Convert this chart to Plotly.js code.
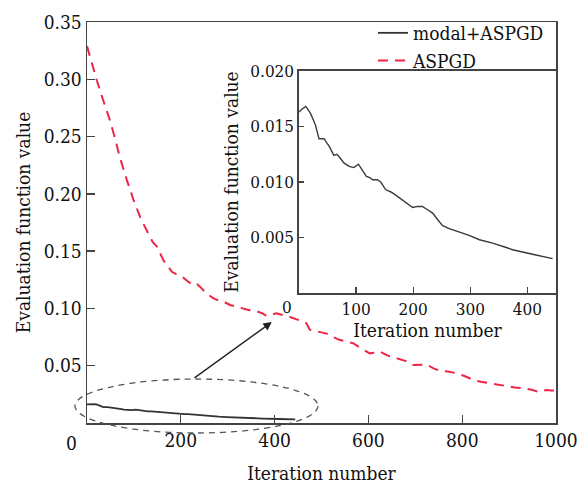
<!DOCTYPE html>
<html>
<head>
<meta charset="utf-8">
<script src="https://cdn.plot.ly/plotly-3.0.1.min.js"></script>
<style>html,body{margin:0;padding:0;background:#fff;}#chart{width:587px;height:484px;}</style>
</head>
<body>
<div id="chart"></div>
<script>
// ASPGD (red dashed)
const aspgdIter = [0,10,21,35,49,60,70,85,99,115,131,140,149,163,172,181,190,202,214,227,235,241,255,269,280,291,305,319,332,344,355,365,375,383,392,404,415,425,433,445,461,468,475,490,511,525,539,555,568,585,603,615,625,640,660,680,696,710,724,740,753,770,788,805,824,840,859,877,895,912,930,948,962,972,980,990,1000];
const aspgdVal = [0.329,0.314,0.299,0.281,0.264,0.248,0.232,0.212,0.195,0.178,0.165,0.158,0.154,0.142,0.137,0.132,0.130,0.128,0.124,0.120,0.121,0.119,0.113,0.109,0.107,0.106,0.103,0.1015,0.100,0.0986,0.0975,0.0971,0.0955,0.0934,0.0945,0.0957,0.0945,0.093,0.0925,0.091,0.0884,0.087,0.0815,0.080,0.078,0.075,0.0724,0.071,0.0695,0.065,0.0608,0.0615,0.0622,0.059,0.0564,0.054,0.0506,0.0505,0.051,0.0475,0.0455,0.045,0.0434,0.041,0.0375,0.036,0.0346,0.033,0.0317,0.031,0.0303,0.029,0.0273,0.028,0.0288,0.0284,0.0282];
// modal+ASPGD (black solid)
const modalIter = [0,6,12,16,20,25,29,35,44,49,53,61,66,70,79,88,96,104,111,118,124,129,137,143,152,161,170,181,190,199,208,216,225,234,243,251,263,281,298,316,339,363,374,409,430,444];
const modalVal = [0.0163,0.0166,0.0168,0.0165,0.0162,0.0156,0.0151,0.0139,0.0139,0.0135,0.0132,0.0124,0.0125,0.0123,0.0117,0.0114,0.0113,0.0116,0.0111,0.0105,0.0104,0.0102,0.0102,0.0100,0.0093,0.0091,0.0088,0.0084,0.0081,0.0077,0.0078,0.0078,0.0075,0.0072,0.0066,0.0061,0.0058,0.0055,0.0052,0.0048,0.0045,0.0041,0.0039,0.0035,0.0033,0.0031];
const mainXTicks = [200,400,600,800,1000];
const mainYTicks = [0.05,0.10,0.15,0.20,0.25,0.30,0.35];
const insetXTicks = [100,200,300,400];
const insetYTicks = [0.005,0.010,0.015,0.020];
const seriesNames = ['modal+ASPGD','ASPGD'];
const xTitle = 'Iteration number';
const yTitle = 'Evaluation function value';

const FONT = 'DejaVu Serif Condensed, DejaVu Serif, serif';
const TXT = '#111';
const AX = '#444';

const traces = [
  {x: modalIter, y: modalVal, name: seriesNames[0], type: 'scatter', mode: 'lines',
   line: {color: '#333', width: 1.8}, xaxis: 'x', yaxis: 'y'},
  {x: aspgdIter, y: aspgdVal, name: seriesNames[1], type: 'scatter', mode: 'lines',
   line: {color: '#ee2545', width: 2, dash: '10px,7px'}, xaxis: 'x', yaxis: 'y'},
  {x: modalIter, y: modalVal, name: seriesNames[0], showlegend: false, type: 'scatter', mode: 'lines',
   line: {color: '#3a3a3a', width: 1.4}, xaxis: 'x2', yaxis: 'y2'}
];

const axisCommon = {
  showgrid: false, zeroline: false, showline: true, mirror: true,
  linecolor: AX, linewidth: 1.5, ticks: 'inside', tickcolor: AX, tickwidth: 1.3,
  tickfont: {family: FONT, size: 19, color: TXT}
};

const layout = {
  width: 587, height: 484,
  margin: {l: 87, r: 31, t: 22, b: 61},
  paper_bgcolor: '#fff', plot_bgcolor: '#fff',
  showlegend: true,
  legend: {x: 0.985, xanchor: 'right', y: 1.02, yanchor: 'top', bgcolor: 'rgba(0,0,0,0)',
           font: {family: FONT, size: 19, color: TXT}, tracegroupgap: 0, itemwidth: 30},
  xaxis: Object.assign({}, axisCommon, {
    domain: [0, 1], range: [0, 1000], tickvals: mainXTicks, ticklen: 8,
    title: {text: xTitle, font: {family: FONT, size: 19, color: TXT}, standoff: 16}
  }),
  yaxis: Object.assign({}, axisCommon, {
    domain: [0, 1], range: [0, 0.35], tickvals: mainYTicks, tickformat: '.2f', ticklen: 8,
    title: {text: yTitle, font: {family: FONT, size: 19, color: TXT}, standoff: 8}
  }),
  xaxis2: Object.assign({}, axisCommon, {
    domain: [0.452, 1], range: [0, 450], anchor: 'y2', tickvals: insetXTicks, ticklen: 6,
    tickfont: {family: FONT, size: 17, color: TXT},
    title: {text: xTitle, font: {family: FONT, size: 19, color: TXT}, standoff: 4}
  }),
  yaxis2: Object.assign({}, axisCommon, {
    domain: [0.324, 0.878], range: [0, 0.020], anchor: 'x2', tickvals: insetYTicks, tickformat: '.3f', ticklen: 5,
    tickfont: {family: FONT, size: 17, color: TXT},
    title: {text: yTitle, font: {family: FONT, size: 19, color: TXT}, standoff: 6}
  }),
  shapes: [
    {type: 'circle', xref: 'paper', yref: 'paper', x0: -0.0256, x1: 0.4925, y0: -0.025, y1: 0.1097,
     line: {color: '#555', width: 1.3, dash: '6px,5px'}}
  ],
  annotations: [
    {xref: 'x', yref: 'y', x: 394, y: 0.0881, ax: 226, ay: 0.0384, axref: 'x', ayref: 'y',
     showarrow: true, arrowhead: 2, arrowsize: 1.2, arrowwidth: 1.4, arrowcolor: '#222', text: ''},
    {xref: 'paper', yref: 'paper', x: -0.032, y: -0.05, xanchor: 'center', yanchor: 'middle',
     text: '0', showarrow: false, font: {family: FONT, size: 19, color: TXT}},
    {xref: 'paper', yref: 'paper', x: 0.426, y: 0.29, xanchor: 'center', yanchor: 'middle',
     text: '0', showarrow: false, font: {family: FONT, size: 17, color: TXT}}
  ]
};

Plotly.newPlot('chart', traces, layout, {displayModeBar: false, staticPlot: true});
</script>
</body>
</html>
